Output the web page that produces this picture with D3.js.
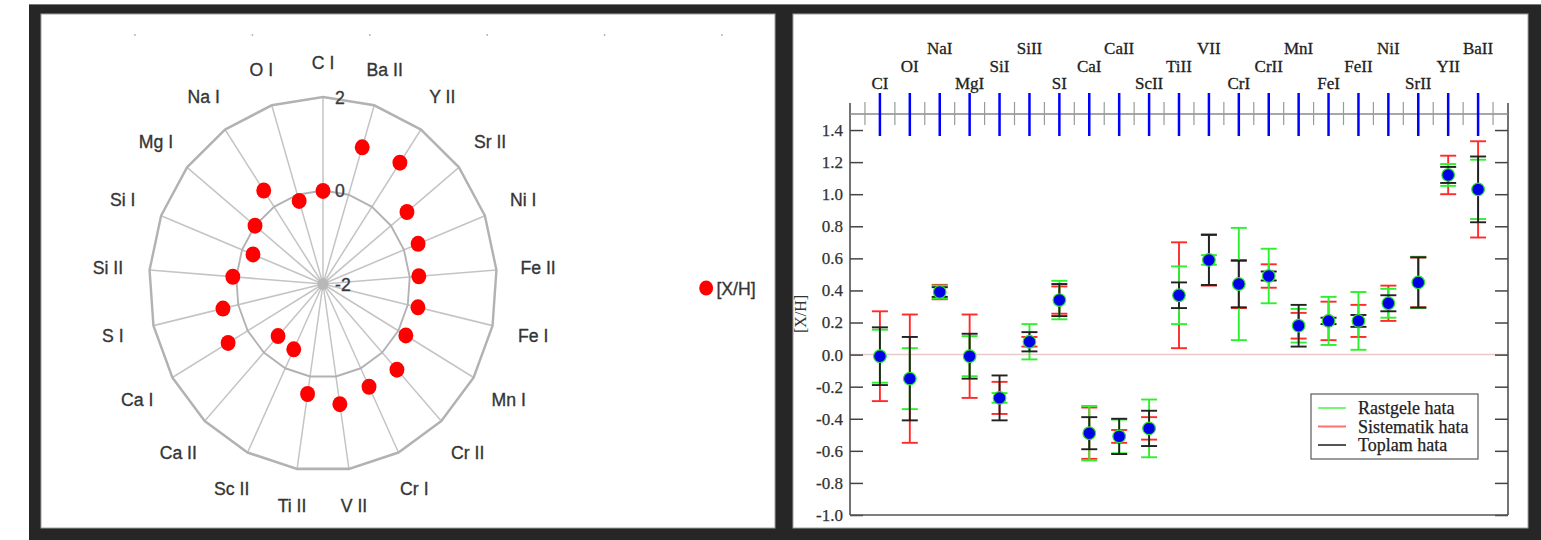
<!DOCTYPE html>
<html>
<head>
<meta charset="utf-8">
<script src="https://cdn.jsdelivr.net/npm/d3@7"></script>
<style>
  body { margin: 0; background: #fff; }
  svg { display: block; }
</style>
</head>
<body>
<div id="chart"></div>
<script>
// radar (left panel)
var radarLabels = ["C I", "Ba II", "Y II", "Sr II", "Ni I", "Fe II", "Fe I", "Mn I", "Cr II", "Cr I", "V II",
                   "Ti II", "Sc II", "Ca II", "Ca I", "S I", "Si II", "Si I", "Mg I", "Na I", "O I"];
var radarValues = [-0.01, 1.06, 1.14, 0.47, 0.35, 0.21, 0.24, 0.20, 0.50, 0.44, 0.60,
                   0.38, -0.45, -0.48, 0.52, 0.36, 0.08, -0.27, 0.00, 0.42, -0.14];
var radarRings = [0, 2];
var radarRingLabels = [2, 0, -2];

// error bar chart (right panel)
var elements = ["CI", "OI", "NaI", "MgI", "SiI", "SiII", "SI", "CaI", "CaII", "ScII", "TiII",
                "VII", "CrI", "CrII", "MnI", "FeI", "FeII", "NiI", "SrII", "YII", "BaII"];
var abundance = [-0.01, -0.15, 0.39, -0.01, -0.27, 0.08, 0.34, -0.49, -0.51, -0.46, 0.37,
                 0.59, 0.44, 0.49, 0.18, 0.21, 0.21, 0.32, 0.45, 1.12, 1.03];
var errRandom = [0.165, 0.19, 0.04, 0.125, 0.03, 0.11, 0.12, 0.17, 0.105, 0.18, 0.18,
                 0.03, 0.35, 0.17, 0.105, 0.15, 0.18, 0.09, 0.16, 0.068, 0.185];
var errSystematic = [0.28, 0.40, 0.045, 0.26, 0.10, 0.03, 0.085, 0.16, 0.04, 0.07, 0.33,
                     0.16, 0.15, 0.073, 0.08, 0.12, 0.10, 0.11, 0.155, 0.12, 0.30];
var errTotal = [0.18, 0.26, 0.03, 0.14, 0.14, 0.06, 0.10, 0.10, 0.11, 0.11, 0.08,
                0.156, 0.145, 0.028, 0.13, 0.02, 0.037, 0.05, 0.157, 0.05, 0.205];
var yTicks = [-1.0, -0.8, -0.6, -0.4, -0.2, 0.0, 0.2, 0.4, 0.6, 0.8, 1.0, 1.2, 1.4];
var legendItems = ["Rastgele hata", "Sistematik hata", "Toplam hata"];

var svg = d3.select("#chart").append("svg")
  .attr("width", 1541)
  .attr("height", 540);

// dark frame + white panels
svg.append("rect").attr("x", 29).attr("y", 4).attr("width", 1512).attr("height", 536).attr("fill", "#262626");
svg.append("line").attr("x1", 29).attr("x2", 1541).attr("y1", 4.5).attr("y2", 4.5).attr("stroke", "#7a7a7a");
svg.append("rect").attr("x", 41).attr("y", 14).attr("width", 734).attr("height", 514)
  .attr("fill", "#fff").attr("stroke", "#a0a0a0").attr("stroke-width", 1);
svg.append("rect").attr("x", 793).attr("y", 14).attr("width", 735).attr("height", 514)
  .attr("fill", "#fff").attr("stroke", "#a0a0a0").attr("stroke-width", 1);

drawRadar();
drawErrorChart();

function drawRadar() {
  var cx = 323, cy = 284, R = 187, n = radarLabels.length;
  var sansFont = "'Liberation Sans', Arial, sans-serif";

  // faint dots along the top of the panel
  d3.range(6).forEach(function(k) {
    svg.append("circle").attr("cx", 135 + k * 117.4).attr("cy", 35).attr("r", 0.9).attr("fill", "#b0b0b0");
  });

  var g = svg.append("g")
    .attr("transform", "translate(" + cx + "," + cy + ") scale(0.93,1)");

  var r = d3.scaleLinear().domain([-2, 2]).range([0, R]);
  var angle = function(i) { return i * 2 * Math.PI / n; };
  var px = function(i, v) { return r(v) * Math.sin(angle(i)); };
  var py = function(i, v) { return -r(v) * Math.cos(angle(i)); };

  // spokes
  g.selectAll(".spoke").data(radarLabels).enter()
    .append("line")
    .attr("x1", 0).attr("y1", 0)
    .attr("x2", function(d, i) { return px(i, 2); })
    .attr("y2", function(d, i) { return py(i, 2); })
    .attr("stroke", "#c4c4c4")
    .attr("stroke-width", 1.6);

  // rings
  var ringLine = d3.line().curve(d3.curveLinearClosed);
  radarRings.forEach(function(v) {
    g.append("path")
      .attr("d", ringLine(radarLabels.map(function(d, i) { return [px(i, v), py(i, v)]; })))
      .attr("fill", "none")
      .attr("stroke", "#b2b2b2")
      .attr("stroke-width", v == 2 ? 2.6 : 2);
  });

  g.append("circle").attr("r", 6).attr("fill", "#b8b8b8");

  // ring values
  g.selectAll(".ringlab").data(radarRingLabels).enter()
    .append("text")
    .attr("x", 13)
    .attr("y", function(d) { return -r(d); })
    .attr("dy", "0.36em")
    .attr("font-family", sansFont)
    .attr("font-size", 19)
    .attr("fill", "#3a3a3a")
    .attr("stroke", "#3a3a3a").attr("stroke-width", 0.35)
    .text(function(d) { return d; });

  // axis labels
  g.selectAll(".lab").data(radarLabels).enter()
    .append("text")
    .attr("x", function(d, i) { var a = angle(i); return (222 + 10 * Math.abs(Math.sin(a))) * Math.sin(a); })
    .attr("y", function(d, i) { var a = angle(i); return -(222 + 10 * Math.abs(Math.sin(a))) * Math.cos(a); })
    .attr("dy", "0.36em")
    .attr("text-anchor", "middle")
    .attr("font-family", sansFont)
    .attr("font-size", 19)
    .attr("fill", "#353535")
    .attr("stroke", "#353535").attr("stroke-width", 0.35)
    .text(function(d) { return d; });

  // points
  g.selectAll(".pt").data(radarValues).enter()
    .append("circle")
    .attr("cx", function(d, i) { return px(i, d); })
    .attr("cy", function(d, i) { return py(i, d); })
    .attr("r", 8)
    .attr("fill", "#ff0000");

  // legend
  g.append("circle").attr("cx", 412).attr("cy", 4).attr("r", 7.5).attr("fill", "#ff0000");
  g.append("text")
    .attr("x", 423).attr("y", 4).attr("dy", "0.36em")
    .attr("font-family", sansFont)
    .attr("font-size", 19)
    .attr("fill", "#353535")
    .attr("stroke", "#353535").attr("stroke-width", 0.35)
    .text("[X/H]");
}

function drawErrorChart() {
  var serif = "'Liberation Serif', 'Times New Roman', serif";
  var left = 850, right = 1508, top = 114, bottom = 515;

  var x = d3.scaleLinear().domain([0, 22]).range([left, right]);
  var y = d3.scaleLinear().domain([-1, 1.5]).range([bottom, top]);

  var data = elements.map(function(e, i) {
    return { name: e, pos: i + 1, v: abundance[i], rnd: errRandom[i], sys: errSystematic[i], tot: errTotal[i] };
  });

  // zero line
  svg.append("line")
    .attr("x1", left).attr("x2", right)
    .attr("y1", y(0)).attr("y2", y(0))
    .attr("stroke", "#e8caca").attr("stroke-width", 1.5);

  // left / right axes
  var yAxis = d3.axisLeft(y).tickValues(yTicks).tickSize(-13).tickSizeOuter(0).tickPadding(7)
    .tickFormat(function(d) { return d.toFixed(1); });
  var gy = svg.append("g").attr("transform", "translate(" + left + ",0)").call(yAxis);
  gy.select(".domain").remove();
  gy.selectAll("line").attr("stroke", "#444").attr("stroke-width", 1.5);
  gy.selectAll("text").attr("font-family", serif).attr("font-size", 17).attr("fill", "#333")
    .attr("stroke", "#333").attr("stroke-width", 0.25);

  var gyr = svg.append("g").attr("transform", "translate(" + right + ",0)")
    .call(d3.axisRight(y).tickValues(yTicks).tickSize(-13).tickSizeOuter(0).tickFormat(""));
  gyr.select(".domain").remove();
  gyr.selectAll("line").attr("stroke", "#444").attr("stroke-width", 1.5);

  svg.append("line").attr("x1", left).attr("x2", left).attr("y1", 103).attr("y2", bottom)
    .attr("stroke", "#444").attr("stroke-width", 1.5);
  svg.append("line").attr("x1", right).attr("x2", right).attr("y1", 103).attr("y2", bottom)
    .attr("stroke", "#444").attr("stroke-width", 1.5);
  svg.append("line").attr("x1", left).attr("x2", right).attr("y1", bottom).attr("y2", bottom)
    .attr("stroke", "#555").attr("stroke-width", 1.5);

  // top axis with minor ticks and blue element markers
  svg.append("line").attr("x1", left).attr("x2", right).attr("y1", top).attr("y2", top)
    .attr("stroke", "#8a8a8a").attr("stroke-width", 1.3);
  svg.selectAll(".minor").data(d3.range(0.5, 22, 1)).enter()
    .append("line")
    .attr("x1", function(d) { return x(d); }).attr("x2", function(d) { return x(d); })
    .attr("y1", top - 12).attr("y2", top + 11)
    .attr("stroke", "#9a9a9a").attr("stroke-width", 1.2);
  svg.selectAll(".marker").data(data).enter()
    .append("line")
    .attr("x1", function(d) { return x(d.pos); }).attr("x2", function(d) { return x(d.pos); })
    .attr("y1", top - 21).attr("y2", top + 22)
    .attr("stroke", "#0000ff").attr("stroke-width", 2.5);

  svg.selectAll(".elab").data(data).enter()
    .append("text")
    .attr("x", function(d) { return x(d.pos); })
    .attr("y", function(d, i) { return 89 - 17.5 * (i % 3); })
    .attr("text-anchor", "middle")
    .attr("font-family", serif)
    .attr("font-size", 17)
    .attr("fill", "#222")
    .attr("stroke", "#222").attr("stroke-width", 0.3)
    .text(function(d) { return d.name; });

  // y title
  svg.append("text")
    .attr("transform", "translate(806,314) rotate(-90)")
    .attr("text-anchor", "middle")
    .attr("font-family", serif)
    .attr("font-size", 16)
    .attr("fill", "#333")
    .text("[X/H]");

  // error bars: systematic, random, total
  var series = [
    { key: "sys", color: "#ff2b2b" },
    { key: "rnd", color: "#2ef02e" },
    { key: "tot", color: "#222222" }
  ];
  series.forEach(function(s) {
    var g = svg.append("g").attr("stroke", s.color).attr("stroke-width", 1.9);
    var bars = g.selectAll("g").data(data).enter().append("g");
    bars.append("line")
      .attr("x1", function(d) { return x(d.pos); }).attr("x2", function(d) { return x(d.pos); })
      .attr("y1", function(d) { return y(d.v + d[s.key]); })
      .attr("y2", function(d) { return y(d.v - d[s.key]); });
    bars.append("line")
      .attr("x1", function(d) { return x(d.pos) - 8; }).attr("x2", function(d) { return x(d.pos) + 8; })
      .attr("y1", function(d) { return y(d.v + d[s.key]); })
      .attr("y2", function(d) { return y(d.v + d[s.key]); });
    bars.append("line")
      .attr("x1", function(d) { return x(d.pos) - 8; }).attr("x2", function(d) { return x(d.pos) + 8; })
      .attr("y1", function(d) { return y(d.v - d[s.key]); })
      .attr("y2", function(d) { return y(d.v - d[s.key]); });
  });

  svg.selectAll(".pt").data(data).enter()
    .append("circle")
    .attr("cx", function(d) { return x(d.pos); })
    .attr("cy", function(d) { return y(d.v); })
    .attr("r", 6.3)
    .attr("fill", "#0000e6")
    .attr("stroke", "#2ee02e")
    .attr("stroke-width", 1.2);

  // legend
  var lg = svg.append("g");
  lg.append("rect").attr("x", 1311).attr("y", 394).attr("width", 167).attr("height", 65)
    .attr("fill", "#fff").attr("stroke", "#5a5a5a").attr("stroke-width", 1.2);
  var legendColors = ["#77f777", "#ff7070", "#555"];
  legendItems.forEach(function(t, i) {
    var ly = 408 + i * 18.5;
    lg.append("line").attr("x1", 1318).attr("x2", 1346).attr("y1", ly).attr("y2", ly)
      .attr("stroke", legendColors[i]).attr("stroke-width", 2);
    lg.append("text").attr("x", 1358).attr("y", ly + 6)
      .attr("font-family", serif).attr("font-size", 18).attr("fill", "#222")
      .attr("stroke", "#222").attr("stroke-width", 0.25)
      .text(t);
  });
}
</script>
</body>
</html>
